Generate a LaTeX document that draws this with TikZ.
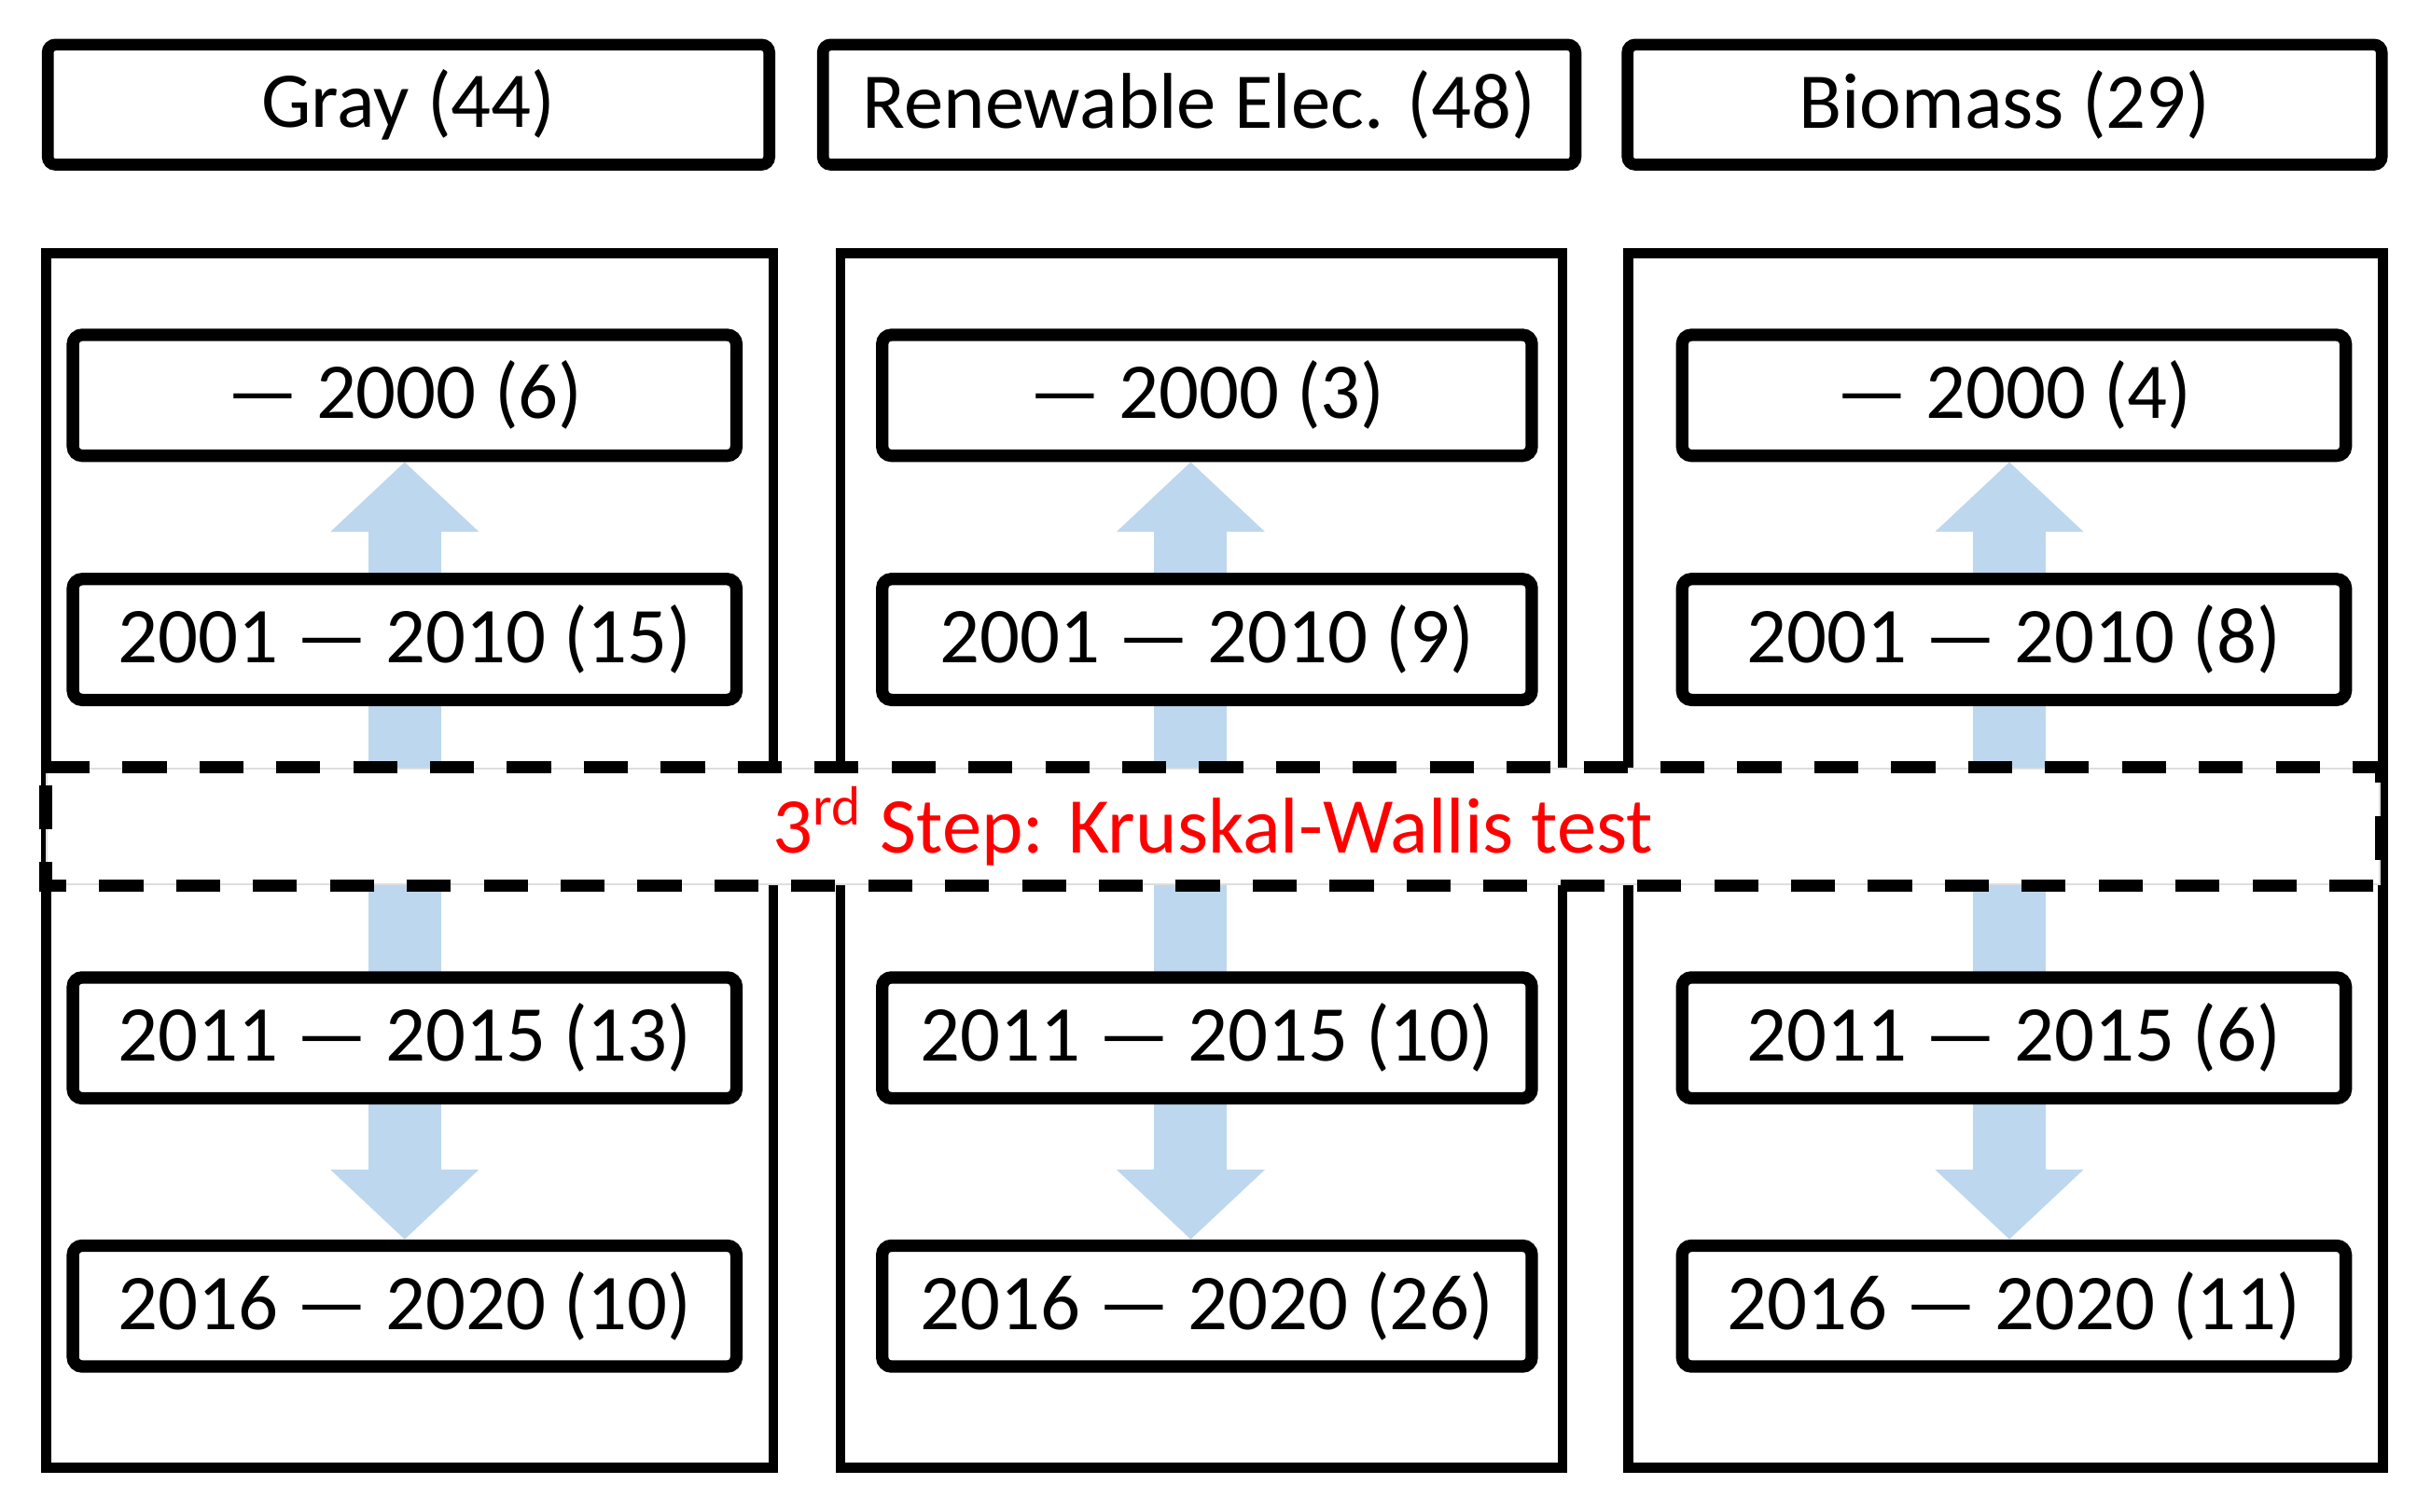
\documentclass[tikz,border=0pt]{standalone}
\usepackage{fontspec}
\setmainfont{Carlito}
\usetikzlibrary{arrows.meta}
\pgfdeclarelayer{background}
\pgfsetlayers{background,main}
\definecolor{arrowblue}{RGB}{189,215,238}
\definecolor{stepred}{RGB}{255,0,0}
\definecolor{faintgray}{RGB}{222,222,222}
\tikzset{
  txt/.style={font=\fontsize{25.5}{30}\selectfont},
  header/.style={txt, draw, line width=3.8pt, rounded corners=2.5pt, fill=white, inner sep=0pt, minimum height=38.7pt},
  column/.style={draw, line width=3.2pt, fill=white, inner sep=0pt, minimum height=391.8pt},
  period/.style={txt, draw, line width=4pt, rounded corners=3pt, fill=white, inner sep=0pt, minimum height=39pt},
  bandbase/.style={draw=faintgray, line width=0.6pt, fill=white, inner sep=0pt, minimum width=752.5pt, minimum height=37.5pt},
  bandtext/.style={txt, text=stepred, inner sep=0pt},
  updown/.style={draw=arrowblue, line width=23.5pt, {Triangle[length=22.5pt,width=46.5pt]}-{Triangle[length=22.5pt,width=46.5pt]}}
}
\begin{document}
\begin{tikzpicture}[x=0.5pt,y=-0.5pt]
\useasboundingbox (0,0) rectangle (1568,975);

% headers
\node[header, minimum width=232.7pt] (h1) at (263.5,67.5) {Gray (44)};
\node[header, minimum width=242.7pt] (h2) at (773.5,67.5) {Renewable Elec. (48)};
\node[header, minimum width=243.2pt] (h3) at (1293,67.5) {Biomass (29)};

% period boxes
\node[period, minimum width=214pt] (a1) at (261,255) {— 2000 (6)};
\node[period, minimum width=214pt] (a2) at (261,412.5) {2001 — 2010 (15)};
\node[period, minimum width=214pt] (a3) at (261,669.5) {2011 — 2015 (13)};
\node[period, minimum width=214pt] (a4) at (261,842.5) {2016 — 2020 (10)};

\node[period, minimum width=209.5pt] (b1) at (778.5,255) {— 2000 (3)};
\node[period, minimum width=209.5pt] (b2) at (778.5,412.5) {2001 — 2010 (9)};
\node[period, minimum width=209.5pt] (b3) at (778.5,669.5) {2011 — 2015 (10)};
\node[period, minimum width=209.5pt] (b4) at (778.5,842.5) {2016 — 2020 (26)};

\node[period, minimum width=214pt] (c1) at (1299,255) {— 2000 (4)};
\node[period, minimum width=214pt] (c2) at (1299,412.5) {2001 — 2010 (8)};
\node[period, minimum width=214pt] (c3) at (1299,669.5) {2011 — 2015 (6)};
\node[period, minimum width=214pt] (c4) at (1299,842.5) {2016 — 2020 (11)};

\begin{pgfonlayer}{background}
  \node[column, minimum width=234.5pt] (col1) at (264.3,555) {};
  \node[column, minimum width=232.8pt] (col2) at (775,555) {};
  \node[column, minimum width=243.3pt] (col3) at (1293.5,555) {};
  \draw[updown] (a1.south) -- (a4.north);
  \draw[updown] ([xshift=-5.25pt]b1.south) -- ([xshift=-5.25pt]b4.north);
  \draw[updown] ([xshift=-1.5pt]c1.south) -- ([xshift=-1.5pt]c4.north);
\end{pgfonlayer}

% third step band
\node[bandbase] (band) at (782.5,533) {};
\draw[line width=4pt, dash pattern=on 14.2pt off 10.6pt]
  (band.north west) -- (band.north east) -- (band.south east) -- (band.south west) -- cycle;
\node[bandtext] (step) at (782.5,533) {3\textsuperscript{rd} Step: Kruskal-Wallis test};
\end{tikzpicture}
\end{document}
